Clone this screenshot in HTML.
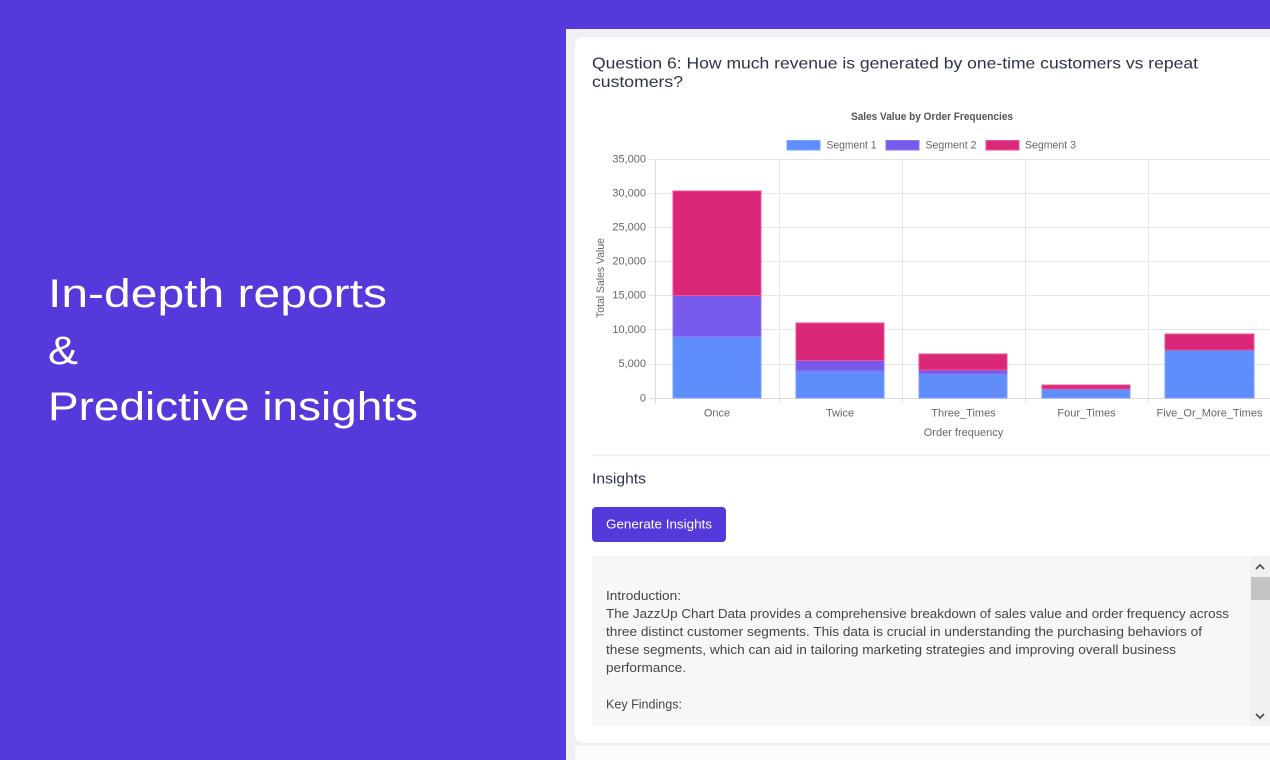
<!DOCTYPE html>
<html>
<head>
<meta charset="utf-8">
<style>
  html, body { margin: 0; padding: 0; width: 1270px; height: 760px; overflow: hidden; background: #5539db; }
  svg { display: block; }
  .sans { font-family: "Liberation Sans", "DejaVu Sans", sans-serif; }
</style>
</head>
<body>
<svg width="1270" height="760" viewBox="0 0 1270 760" xmlns="http://www.w3.org/2000/svg" class="sans">
  <!-- background -->
  <rect x="0" y="0" width="1270" height="760" fill="#5539db"/>

  <!-- left headline -->
  <g fill="#ffffff" font-family="Liberation Sans, sans-serif" font-size="40">
    <text x="48" y="307" textLength="339" lengthAdjust="spacingAndGlyphs">In-depth reports</text>
    <text x="48" y="364" textLength="30" lengthAdjust="spacingAndGlyphs">&amp;</text>
    <text x="48" y="420" textLength="370" lengthAdjust="spacingAndGlyphs">Predictive insights</text>
  </g>

  <!-- outer light panel -->
  <rect x="566" y="29" width="710" height="740" fill="#eef0f4"/>
  <!-- white card -->
  <rect x="575" y="37" width="710" height="706" rx="8" fill="#ffffff"/>
  <!-- below card -->
  <rect x="575" y="745" width="700" height="20" fill="#fbfbfc"/>
  <line x1="575" y1="744" x2="1270" y2="744" stroke="#eceef2" stroke-width="2"/>

  <!-- question title -->
  <g fill="#2f3349" font-size="16">
    <text x="592" y="68.5" textLength="606" lengthAdjust="spacingAndGlyphs">Question 6: How much revenue is generated by one-time customers vs repeat</text>
    <text x="592" y="87" textLength="91" lengthAdjust="spacingAndGlyphs">customers?</text>
  </g>

  <!-- chart title -->
  <text x="932" y="120" text-anchor="middle" font-size="11" font-weight="bold" fill="#555" textLength="162" lengthAdjust="spacingAndGlyphs">Sales Value by Order Frequencies</text>

  <!-- legend -->
  <g font-size="11" fill="#666">
    <rect x="787" y="140.5" width="33" height="9.5" fill="#608dfc" stroke="#7aa0ff" stroke-width="1"/>
    <text x="826.5" y="148.5" textLength="50" lengthAdjust="spacingAndGlyphs">Segment 1</text>
    <rect x="886" y="140.5" width="33" height="9.5" fill="#7759ec" stroke="#8f76f0" stroke-width="1"/>
    <text x="925.5" y="148.5" textLength="51" lengthAdjust="spacingAndGlyphs">Segment 2</text>
    <rect x="986" y="140.5" width="33" height="9.5" fill="#db2777" stroke="#e8559a" stroke-width="1"/>
    <text x="1025" y="148.5" textLength="51" lengthAdjust="spacingAndGlyphs">Segment 3</text>
  </g>

  <!-- gridlines -->
  <g stroke="#e6e6e6" stroke-width="1">
    <line x1="649" y1="159.5" x2="1271" y2="159.5"/>
    <line x1="649" y1="193.5" x2="1271" y2="193.5"/>
    <line x1="649" y1="227.5" x2="1271" y2="227.5"/>
    <line x1="649" y1="261.5" x2="1271" y2="261.5"/>
    <line x1="649" y1="295.5" x2="1271" y2="295.5"/>
    <line x1="649" y1="329.5" x2="1271" y2="329.5"/>
    <line x1="649" y1="364.5" x2="1271" y2="364.5"/>
    <line x1="779.5" y1="159" x2="779.5" y2="404"/>
    <line x1="902.5" y1="159" x2="902.5" y2="404"/>
    <line x1="1025.5" y1="159" x2="1025.5" y2="404"/>
    <line x1="1148.5" y1="159" x2="1148.5" y2="404"/>
  </g>
  <g stroke="#dcdcdc" stroke-width="1">
    <line x1="649" y1="398.5" x2="1271" y2="398.5"/>
    <line x1="655.5" y1="159" x2="655.5" y2="404"/>
  </g>

  <!-- y tick labels -->
  <g font-size="11" fill="#666" text-anchor="end">
    <text x="646" y="162.5">35,000</text>
    <text x="646" y="196.5">30,000</text>
    <text x="646" y="230.5">25,000</text>
    <text x="646" y="264.5">20,000</text>
    <text x="646" y="298.5">15,000</text>
    <text x="646" y="333">10,000</text>
    <text x="646" y="367">5,000</text>
    <text x="646" y="401.5">0</text>
  </g>
  <text transform="translate(604,278) rotate(-90)" text-anchor="middle" font-size="11" fill="#666" textLength="80" lengthAdjust="spacingAndGlyphs">Total Sales Value</text>

  <!-- bars -->
  <g stroke-width="1">
    <!-- Once -->
    <rect x="673" y="336.5" width="88" height="61.5" fill="#608dfc" stroke="#7aa0ff"/>
    <rect x="673" y="295.5" width="88" height="41" fill="#7759ec" stroke="#8f76f0"/>
    <rect x="673" y="191" width="88" height="104.5" fill="#db2777" stroke="#e8559a"/>
    <!-- Twice -->
    <rect x="796" y="371" width="88" height="27" fill="#608dfc" stroke="#7aa0ff"/>
    <rect x="796" y="360.5" width="88" height="10.5" fill="#7759ec" stroke="#8f76f0"/>
    <rect x="796" y="323" width="88" height="37.5" fill="#db2777" stroke="#e8559a"/>
    <!-- Three -->
    <rect x="919" y="374" width="88" height="24" fill="#608dfc" stroke="#7aa0ff"/>
    <rect x="919" y="370" width="88" height="4" fill="#7759ec" stroke="#8f76f0"/>
    <rect x="919" y="354" width="88" height="16" fill="#db2777" stroke="#e8559a"/>
    <!-- Four -->
    <rect x="1042" y="389" width="88" height="9" fill="#608dfc" stroke="#7aa0ff"/>
    <rect x="1042" y="385" width="88" height="4" fill="#db2777" stroke="#e8559a"/>
    <!-- Five -->
    <rect x="1165" y="350" width="89" height="48" fill="#608dfc" stroke="#7aa0ff"/>
    <rect x="1165" y="334" width="89" height="16" fill="#db2777" stroke="#e8559a"/>
  </g>

  <!-- x labels -->
  <g font-size="11" fill="#666" text-anchor="middle">
    <text x="717" y="416.5">Once</text>
    <text x="840" y="416.5">Twice</text>
    <text x="963.5" y="416.5">Three_Times</text>
    <text x="1086.5" y="416.5">Four_Times</text>
    <text x="1209.5" y="416.5">Five_Or_More_Times</text>
    <text x="963.5" y="436">Order frequency</text>
  </g>

  <!-- separator -->
  <line x1="592" y1="455.5" x2="1270" y2="455.5" stroke="#eeeff2" stroke-width="1.5"/>

  <!-- insights heading -->
  <text x="592" y="483.5" font-size="15" fill="#2f3349" textLength="54" lengthAdjust="spacingAndGlyphs">Insights</text>

  <!-- button -->
  <rect x="592" y="507" width="134" height="35" rx="4" fill="#5539db"/>
  <text x="659" y="528.5" text-anchor="middle" font-size="12.5" fill="#ffffff" textLength="106" lengthAdjust="spacingAndGlyphs">Generate Insights</text>

  <!-- insights box -->
  <rect x="592" y="556" width="660" height="170" fill="#f6f7f9"/>
  <g font-size="13" fill="#454545">
    <text x="606" y="600" textLength="75" lengthAdjust="spacingAndGlyphs">Introduction:</text>
    <text x="606" y="618" textLength="623" lengthAdjust="spacingAndGlyphs">The JazzUp Chart Data provides a comprehensive breakdown of sales value and order frequency across</text>
    <text x="606" y="636" textLength="596" lengthAdjust="spacingAndGlyphs">three distinct customer segments. This data is crucial in understanding the purchasing behaviors of</text>
    <text x="606" y="654" textLength="570" lengthAdjust="spacingAndGlyphs">these segments, which can aid in tailoring marketing strategies and improving overall business</text>
    <text x="606" y="672" textLength="80" lengthAdjust="spacingAndGlyphs">performance.</text>
    <text x="606" y="708.5" textLength="76" lengthAdjust="spacingAndGlyphs">Key Findings:</text>
  </g>

  <!-- scrollbar -->
  <rect x="1250" y="556" width="20" height="170" fill="#f1f1f1"/>
  <rect x="1251" y="577" width="19" height="23" fill="#c4c4c4"/>
  <polyline points="1256,569 1260,565 1264,569" fill="none" stroke="#505050" stroke-width="1.8"/>
  <polyline points="1256,714 1260,718 1264,714" fill="none" stroke="#505050" stroke-width="1.8"/>
</svg>
</body>
</html>
